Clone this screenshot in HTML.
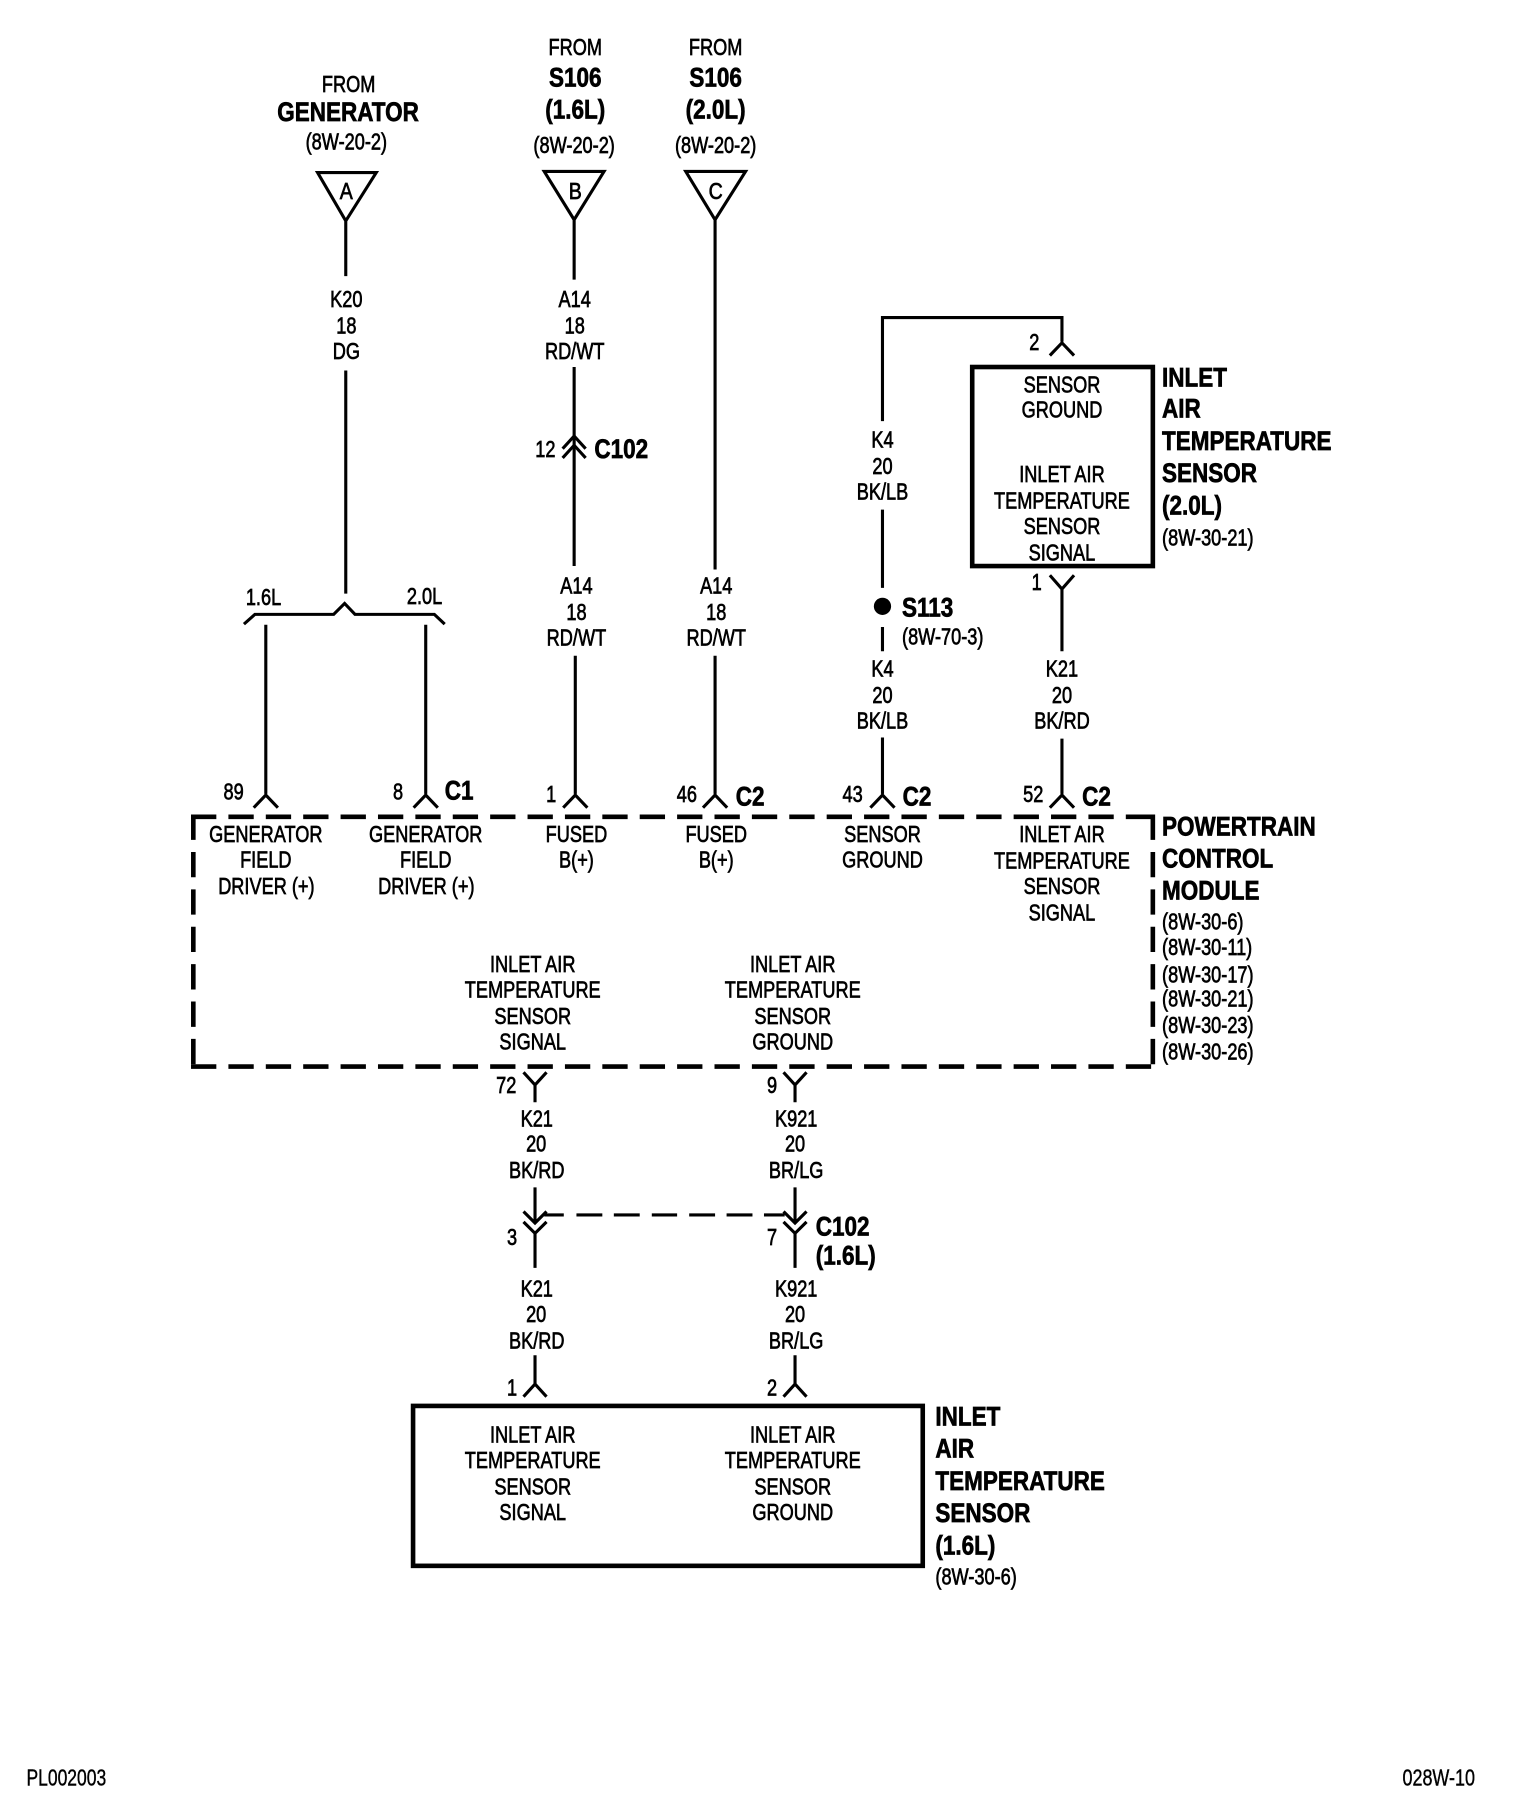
<!DOCTYPE html>
<html><head><meta charset="utf-8"><title>Wiring diagram</title>
<style>
html,body{margin:0;padding:0;background:#fff}
svg{display:block}
text{fill:#000;font-family:"Liberation Sans",sans-serif;stroke:#000}
.r,.rl{font-size:20px;stroke-width:.6px}
.b,.bl{font-size:23px;font-weight:bold;stroke-width:.6px}
.r,.b{text-anchor:middle}
.f{font-size:20px;stroke-width:.35px}
.w{fill:none;stroke:#000;stroke-width:2.7}
.t{fill:none;stroke:#000;stroke-width:4}
.d{fill:none;stroke:#000;stroke-width:4;stroke-dasharray:22 10.5}
</style></head><body>
<svg xmlns="http://www.w3.org/2000/svg" width="1536" height="1804" viewBox="0 0 1335 1568">
<rect width="1335" height="1568" fill="#fff"/>
<!-- wires -->
<g class="w">
<path class="w" d="M276,150H327L300.5,192ZM300.5,192V240M300.5,322V516"/>
<path class="w" d="M473,149H525L499,191ZM499,191V243M499,319V492"/>
<path class="w" d="M596,149H648L621.5,191ZM621.5,191V495"/>
<path class="w" d="M489,390L499,379L509,390M489,398L499,387L509,398"/>
<path class="w" d="M212,542.5L221.5,534H290L299.5,524.5L308.5,534H377.5L386.5,542.5"/>
<path class="w" d="M231,543V690M220.5,702L231,691L241.5,702"/>
<path class="w" d="M370,543V690M359.5,702L370,691L380.5,702"/>
<path class="w" d="M500,570V690M489.5,702L500,691L510.5,702"/>
<path class="w" d="M621.5,570V690M611,702L621.5,691L632,702"/>
<path class="w" d="M767,641V690M756.5,702L767,691L777.5,702"/>
<path class="w" d="M923,642V690M912.5,702L923,691L933.5,702"/>
<path class="w" d="M923,297V276H767V366M767,443V511M767,545V566"/>
<path class="w" d="M912.5,309L923,298L933.5,309"/>
<path class="w" d="M912.5,500L923,512L933.5,500M923,512V566"/>
<path class="w" d="M455,932L465,943L475,932M465,943V958"/>
<path class="w" d="M681,932L691,943L701,932M691,943V958"/>
<path class="w" d="M465,1032V1062M455,1053L465,1063L475,1053M455,1062L465,1072L475,1062M465,1072V1102"/>
<path class="w" d="M691,1032V1062M681,1053L691,1063L701,1053M681,1062L691,1072L701,1062M691,1072V1102"/>
<path class="w" d="M473,1056H490M501,1056H523.5M533.5,1056H556M566.5,1056H588.5M599,1056H621.5M631.5,1056H654M664,1056H682"/>
<path class="w" d="M465,1178V1203M455,1214L465,1203L475,1214"/>
<path class="w" d="M691,1178V1203M681,1214L691,1203L701,1214"/>
</g>
<circle cx="767" cy="527" r="7.5" fill="#000"/>
<!-- boxes -->
<rect class="t" x="845" y="319" width="157" height="173"/>
<rect class="t" x="359" y="1222" width="443" height="139"/>
<path class="d" d="M166,710H1002"/>
<path class="d" d="M166,927H1002"/>
<path class="d" d="M168,708V928"/>
<path class="d" d="M1002,708V928"/>
<!-- top labels -->
<text class="r" transform="translate(303,80) scale(.79,1)">FROM</text>
<text class="b" transform="translate(302.5,105) scale(.85,1)">GENERATOR</text>
<text class="r" transform="translate(301,130) scale(.79,1)">(8W-20-2)</text>
<text class="r" transform="translate(500,48) scale(.79,1)">FROM</text>
<text class="b" transform="translate(500,75) scale(.85,1)">S106</text>
<text class="b" transform="translate(500,103) scale(.85,1)">(1.6L)</text>
<text class="r" transform="translate(499,133) scale(.79,1)">(8W-20-2)</text>
<text class="r" transform="translate(622,48) scale(.79,1)">FROM</text>
<text class="b" transform="translate(622,75) scale(.85,1)">S106</text>
<text class="b" transform="translate(622,103) scale(.85,1)">(2.0L)</text>
<text class="r" transform="translate(622,133) scale(.79,1)">(8W-20-2)</text>
<text class="r" transform="translate(301,173) scale(.85,1)">A</text>
<text class="r" transform="translate(500,173) scale(.85,1)">B</text>
<text class="r" transform="translate(622,173) scale(.85,1)">C</text>
<!-- wire labels -->
<text class="r" transform="translate(301,267) scale(.79,1)">K20</text>
<text class="r" transform="translate(301,290) scale(.79,1)">18</text>
<text class="r" transform="translate(301,312) scale(.79,1)">DG</text>
<text class="r" transform="translate(499.5,267) scale(.79,1)">A14</text>
<text class="r" transform="translate(499.5,290) scale(.79,1)">18</text>
<text class="r" transform="translate(499.5,312) scale(.79,1)">RD/WT</text>
<text class="r" transform="translate(474,397) scale(.79,1)">12</text>
<text class="b" transform="translate(540,398) scale(.85,1)">C102</text>
<text class="r" transform="translate(501,516) scale(.79,1)">A14</text>
<text class="r" transform="translate(501,539) scale(.79,1)">18</text>
<text class="r" transform="translate(501,561) scale(.79,1)">RD/WT</text>
<text class="r" transform="translate(622.5,516) scale(.79,1)">A14</text>
<text class="r" transform="translate(622.5,539) scale(.79,1)">18</text>
<text class="r" transform="translate(622.5,561) scale(.79,1)">RD/WT</text>
<text class="r" transform="translate(229,526) scale(.79,1)">1.6L</text>
<text class="r" transform="translate(369,525) scale(.79,1)">2.0L</text>
<text class="r" transform="translate(767,389) scale(.79,1)">K4</text>
<text class="r" transform="translate(767,412) scale(.79,1)">20</text>
<text class="r" transform="translate(767,434) scale(.79,1)">BK/LB</text>
<text class="r" transform="translate(767,588) scale(.79,1)">K4</text>
<text class="r" transform="translate(767,611) scale(.79,1)">20</text>
<text class="r" transform="translate(767,633) scale(.79,1)">BK/LB</text>
<text class="r" transform="translate(923,588) scale(.79,1)">K21</text>
<text class="r" transform="translate(923,611) scale(.79,1)">20</text>
<text class="r" transform="translate(923,633) scale(.79,1)">BK/RD</text>
<text class="bl" transform="translate(784,536) scale(.85,1)">S113</text>
<text class="rl" transform="translate(784,560) scale(.79,1)">(8W-70-3)</text>
<!-- pins -->
<text class="r" transform="translate(899,304) scale(.79,1)">2</text>
<text class="r" transform="translate(901,513) scale(.79,1)">1</text>
<text class="r" transform="translate(203,695) scale(.79,1)">89</text>
<text class="r" transform="translate(346,695) scale(.79,1)">8</text>
<text class="b" transform="translate(399,695) scale(.85,1)">C1</text>
<text class="r" transform="translate(479,697) scale(.79,1)">1</text>
<text class="r" transform="translate(597,697) scale(.79,1)">46</text>
<text class="b" transform="translate(652,700) scale(.85,1)">C2</text>
<text class="r" transform="translate(741,697) scale(.79,1)">43</text>
<text class="b" transform="translate(797,700) scale(.85,1)">C2</text>
<text class="r" transform="translate(898,697) scale(.79,1)">52</text>
<text class="b" transform="translate(953,700) scale(.85,1)">C2</text>
<!-- PCM text -->
<text class="r" transform="translate(231,732) scale(.79,1)">GENERATOR</text>
<text class="r" transform="translate(231,754) scale(.79,1)">FIELD</text>
<text class="r" transform="translate(231.5,777) scale(.79,1)">DRIVER (+)</text>
<text class="r" transform="translate(370,732) scale(.79,1)">GENERATOR</text>
<text class="r" transform="translate(370,754) scale(.79,1)">FIELD</text>
<text class="r" transform="translate(370.5,777) scale(.79,1)">DRIVER (+)</text>
<text class="r" transform="translate(501,732) scale(.79,1)">FUSED</text>
<text class="r" transform="translate(501,754) scale(.79,1)">B(+)</text>
<text class="r" transform="translate(622.5,732) scale(.79,1)">FUSED</text>
<text class="r" transform="translate(622.5,754) scale(.79,1)">B(+)</text>
<text class="r" transform="translate(767,732) scale(.79,1)">SENSOR</text>
<text class="r" transform="translate(767,754) scale(.79,1)">GROUND</text>
<text class="r" transform="translate(923,732) scale(.79,1)">INLET AIR</text>
<text class="r" transform="translate(923,755) scale(.79,1)">TEMPERATURE</text>
<text class="r" transform="translate(923,777) scale(.79,1)">SENSOR</text>
<text class="r" transform="translate(923,800) scale(.79,1)">SIGNAL</text>
<text class="r" transform="translate(463,845) scale(.79,1)">INLET AIR</text>
<text class="r" transform="translate(463,867) scale(.79,1)">TEMPERATURE</text>
<text class="r" transform="translate(463,890) scale(.79,1)">SENSOR</text>
<text class="r" transform="translate(463,912) scale(.79,1)">SIGNAL</text>
<text class="r" transform="translate(689,845) scale(.79,1)">INLET AIR</text>
<text class="r" transform="translate(689,867) scale(.79,1)">TEMPERATURE</text>
<text class="r" transform="translate(689,890) scale(.79,1)">SENSOR</text>
<text class="r" transform="translate(689,912) scale(.79,1)">GROUND</text>
<text class="bl" transform="translate(1010,726) scale(.85,1)">POWERTRAIN</text>
<text class="bl" transform="translate(1010,754) scale(.85,1)">CONTROL</text>
<text class="bl" transform="translate(1010,782) scale(.85,1)">MODULE</text>
<text class="rl" transform="translate(1010,808) scale(.79,1)">(8W-30-6)</text>
<text class="rl" transform="translate(1010,830) scale(.79,1)">(8W-30-11)</text>
<text class="rl" transform="translate(1010,854) scale(.79,1)">(8W-30-17)</text>
<text class="rl" transform="translate(1010,875) scale(.79,1)">(8W-30-21)</text>
<text class="rl" transform="translate(1010,898) scale(.79,1)">(8W-30-23)</text>
<text class="rl" transform="translate(1010,921) scale(.79,1)">(8W-30-26)</text>
<!-- 2.0L sensor -->
<text class="r" transform="translate(923,341) scale(.79,1)">SENSOR</text>
<text class="r" transform="translate(923,363) scale(.79,1)">GROUND</text>
<text class="r" transform="translate(923,419) scale(.79,1)">INLET AIR</text>
<text class="r" transform="translate(923,442) scale(.79,1)">TEMPERATURE</text>
<text class="r" transform="translate(923,464) scale(.79,1)">SENSOR</text>
<text class="r" transform="translate(923,487) scale(.79,1)">SIGNAL</text>
<text class="bl" transform="translate(1010,336) scale(.85,1)">INLET</text>
<text class="bl" transform="translate(1010,363) scale(.85,1)">AIR</text>
<text class="bl" transform="translate(1010,391) scale(.85,1)">TEMPERATURE</text>
<text class="bl" transform="translate(1010,419) scale(.85,1)">SENSOR</text>
<text class="bl" transform="translate(1010,447) scale(.85,1)">(2.0L)</text>
<text class="rl" transform="translate(1010,474) scale(.79,1)">(8W-30-21)</text>
<!-- lower wires -->
<text class="r" transform="translate(440,950) scale(.79,1)">72</text>
<text class="r" transform="translate(671,950) scale(.79,1)">9</text>
<text class="r" transform="translate(466.5,979) scale(.79,1)">K21</text>
<text class="r" transform="translate(466,1001) scale(.79,1)">20</text>
<text class="r" transform="translate(466.5,1024) scale(.79,1)">BK/RD</text>
<text class="r" transform="translate(692,979) scale(.79,1)">K921</text>
<text class="r" transform="translate(691,1001) scale(.79,1)">20</text>
<text class="r" transform="translate(692,1024) scale(.79,1)">BR/LG</text>
<text class="r" transform="translate(445,1082) scale(.79,1)">3</text>
<text class="r" transform="translate(671,1082) scale(.79,1)">7</text>
<text class="bl" transform="translate(709,1074) scale(.85,1)">C102</text>
<text class="bl" transform="translate(709,1099) scale(.85,1)">(1.6L)</text>
<text class="r" transform="translate(466.5,1127) scale(.79,1)">K21</text>
<text class="r" transform="translate(466,1149) scale(.79,1)">20</text>
<text class="r" transform="translate(466.5,1172) scale(.79,1)">BK/RD</text>
<text class="r" transform="translate(692,1127) scale(.79,1)">K921</text>
<text class="r" transform="translate(691,1149) scale(.79,1)">20</text>
<text class="r" transform="translate(692,1172) scale(.79,1)">BR/LG</text>
<text class="r" transform="translate(445,1213) scale(.79,1)">1</text>
<text class="r" transform="translate(671,1213) scale(.79,1)">2</text>
<!-- 1.6L sensor -->
<text class="r" transform="translate(463,1254) scale(.79,1)">INLET AIR</text>
<text class="r" transform="translate(463,1276) scale(.79,1)">TEMPERATURE</text>
<text class="r" transform="translate(463,1299) scale(.79,1)">SENSOR</text>
<text class="r" transform="translate(463,1321) scale(.79,1)">SIGNAL</text>
<text class="r" transform="translate(689,1254) scale(.79,1)">INLET AIR</text>
<text class="r" transform="translate(689,1276) scale(.79,1)">TEMPERATURE</text>
<text class="r" transform="translate(689,1299) scale(.79,1)">SENSOR</text>
<text class="r" transform="translate(689,1321) scale(.79,1)">GROUND</text>
<text class="bl" transform="translate(813,1239) scale(.85,1)">INLET</text>
<text class="bl" transform="translate(813,1267) scale(.85,1)">AIR</text>
<text class="bl" transform="translate(813,1295) scale(.85,1)">TEMPERATURE</text>
<text class="bl" transform="translate(813,1323) scale(.85,1)">SENSOR</text>
<text class="bl" transform="translate(813,1351) scale(.85,1)">(1.6L)</text>
<text class="rl" transform="translate(813,1377) scale(.79,1)">(8W-30-6)</text>
<!-- footer -->
<text class="f" transform="translate(23,1552) scale(.76,1)">PL002003</text>
<text class="f" transform="translate(1219,1552) scale(.78,1)">028W-10</text>
</svg>
</body></html>
